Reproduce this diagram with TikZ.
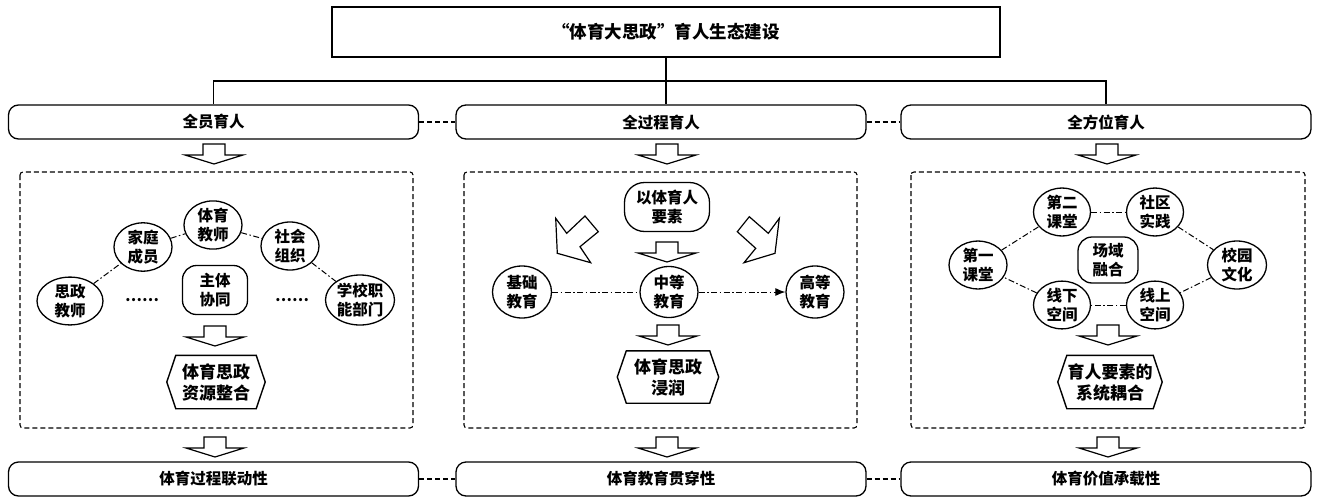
\documentclass[tikz,border=0pt]{standalone}
\usepackage{fontspec}
\setmainfont{Noto Sans CJK SC}
\usetikzlibrary{shapes.geometric,arrows.meta,calc}
\begin{document}
\begin{tikzpicture}[x=1pt,y=-1pt,
  band/.style={draw, line width=1.3pt, rounded corners=10pt, minimum width=410pt, minimum height=34pt, inner sep=0pt, font=\fontsize{15.5}{18}\selectfont\bfseries},
  panel/.style={draw, dash pattern=on 5pt off 3pt, line width=1.1pt, rounded corners=3pt},
  ell/.style={ellipse, draw, line width=1.3pt, inner sep=0pt, minimum width=58pt, minimum height=47pt, align=center, font=\fontsize{15.5}{19}\selectfont\bfseries},
  rbox/.style={rectangle, rounded corners=14pt, draw, line width=1.3pt, inner sep=0pt, align=center, font=\fontsize{15.5}{19}\selectfont\bfseries},
  hexlabel/.style={inner sep=0pt, minimum width=80pt, minimum height=53pt, align=center, font=\fontsize{17}{21}\selectfont\bfseries},
  hexline/.style={line width=1.4pt},
  dd/.style={line width=1pt, dash pattern=on 6pt off 2.5pt on 1.5pt off 2.5pt},
  bandlink/.style={line width=1.3pt, dash pattern=on 5pt off 3pt},
  tree/.style={line width=1.1pt},
  blk/.style={line width=1.2pt, fill=white},
  downarr/.pic={\draw[blk] (-11,-10) -- (11,-10) -- (11,1) -- (29,1) -- (0,10) -- (-29,1) -- (-11,1) -- cycle;},
  dots/.style={inner sep=0pt, font=\fontsize{15}{18}\selectfont\bfseries}
]
\useasboundingbox (0,0) rectangle (1320,501);
\fill[white] (0,0) rectangle (1320,501);

% title
\node[draw, line width=1.5pt, minimum width=668pt, minimum height=50pt, inner sep=0pt, font=\fontsize{17.5}{20}\selectfont\bfseries] (title) at (666,32) {“体育大思政”育人生态建设};

% top bands
\node[band] (b1) at (213.5,122) {全员育人};
\node[band] (b2) at (661,122) {全过程育人};
\node[band] (b3) at (1106,122) {全方位育人};
\draw[bandlink] (b1.east) -- (b2.west);
\draw[bandlink] (b2.east) -- (b3.west);

% tree
\coordinate (hub) at (666,81);
\draw[tree] (title.south) -- (title.south |- b2.north);
\draw[tree] (b1.north) |- (hub) -| (b3.north);

% bottom bands
\node[band] (c1) at (213.5,479) {体育过程联动性};
\node[band] (c2) at (661,479) {体育教育贯穿性};
\node[band] (c3) at (1106,479) {体育价值承载性};
\draw[bandlink] (c1.east) -- (c2.west);
\draw[bandlink] (c2.east) -- (c3.west);

% block arrows top / bottom
\pic at (214,154) {downarr};
\pic at (667,154) {downarr};
\pic at (1107,154) {downarr};
\pic at (215,447) {downarr};
\pic at (667,447) {downarr};
\pic at (1108,447) {downarr};

% panels
\draw[panel] (20,172) rectangle (413,428);
\draw[panel] (464,172) rectangle (857,428);
\draw[panel] (911,172) rectangle (1305,428);

% ---- left panel
\node[ell] (jiaoshi) at (213,225) {体育\\教师};
\node[ell, minimum height=45pt] (jiating) at (143,247) {家庭\\成员};
\node[ell, minimum height=48pt] (shehui) at (290,246) {社会\\组织};
\node[ell, minimum width=66pt] (sizheng) at (70,301) {思政\\教师};
\node[ell, minimum width=69pt, minimum height=50pt] (xuexiao) at (360,300) {学校职\\能部门};
\node[rbox, minimum width=65pt, minimum height=49pt] (zhuti) at (215,290) {主体\\协同};
\node[dots] (dl) at (142,300) {……};
\node[dots] (dr) at (292,300) {……};
\draw[dd] (jiating) -- (jiaoshi);
\draw[dd] (jiaoshi) -- (shehui);
\draw[dd] (sizheng) -- (jiating);
\draw[dd] (shehui) -- (xuexiao);
\pic at (215,336) {downarr};
\node[hexlabel] (h1) at (216,382) {体育思政\\资源整合};
\draw[hexline] (h1.north west) -- (h1.north east) -- ([xshift=9pt]h1.east) -- (h1.south east) -- (h1.south west) -- ([xshift=-9pt]h1.west) -- cycle;

% ---- middle panel
\node[rbox, rounded corners=20pt, minimum width=85pt, minimum height=49pt] (yaosu) at (667,207) {以体育人\\要素};
\pic at (667,252) {downarr};
\draw[blk] (555.7,218.3) -- (566.7,233.3) -- (585,216) -- (598.3,231.7) -- (580,246.7) -- (590.7,262.7) -- (557.3,253.3) -- cycle;
\draw[blk] (737.3,231.7) -- (749.3,216.7) -- (768.3,233.3) -- (779.3,218.3) -- (775,253.3) -- (744,262.7) -- (755.7,248.3) -- cycle;
\node[ell, minimum width=59pt, minimum height=52pt] (jichu) at (522,292) {基础\\教育};
\node[ell, minimum width=58pt, minimum height=51pt] (zhong) at (669,292) {中等\\教育};
\node[ell, minimum width=58pt, minimum height=52pt] (gao) at (815,292) {高等\\教育};
\draw[dd] (jichu) -- (zhong);
\draw[dd, -{Latex[length=10pt,width=8pt]}] (zhong) -- (gao);
\pic at (668,335) {downarr};
\node[hexlabel, minimum width=83pt, minimum height=52pt] (h2) at (668,377) {体育思政\\浸润};
\draw[hexline] (h2.north west) -- (h2.north east) -- ([xshift=9pt]h2.east) -- (h2.south east) -- (h2.south west) -- ([xshift=-9pt]h2.west) -- cycle;

% ---- right panel
\node[ell, minimum width=57pt] (dier) at (1062,212) {第二\\课堂};
\node[ell, minimum width=57pt] (shequ) at (1155,212) {社区\\实践};
\node[ell, minimum height=45pt] (diyi) at (978,265) {第一\\课堂};
\node[ell, minimum width=59pt, minimum height=45pt] (xiaoyuan) at (1237,265) {校园\\文化};
\node[ell, minimum width=57pt, minimum height=44pt] (xianxia) at (1062,305) {线下\\空间};
\node[ell, minimum width=57pt, minimum height=44pt] (xianshang) at (1155,305) {线上\\空间};
\node[rbox, minimum width=60pt, minimum height=46pt] (changyu) at (1108,260) {场域\\融合};
\draw[dd] (diyi) -- (dier);
\draw[dd] (dier) -- (shequ);
\draw[dd] (shequ) -- (xiaoyuan);
\draw[dd] (xiaoyuan) -- (xianshang);
\draw[dd] (xianshang) -- (xianxia);
\draw[dd] (xianxia) -- (diyi);
\pic at (1108,335) {downarr};
\node[hexlabel, minimum width=86pt] (h3) at (1110,382) {育人要素的\\系统耦合};
\draw[hexline] (h3.north west) -- (h3.north east) -- ([xshift=9pt]h3.east) -- (h3.south east) -- (h3.south west) -- ([xshift=-9pt]h3.west) -- cycle;
\end{tikzpicture}
\end{document}
